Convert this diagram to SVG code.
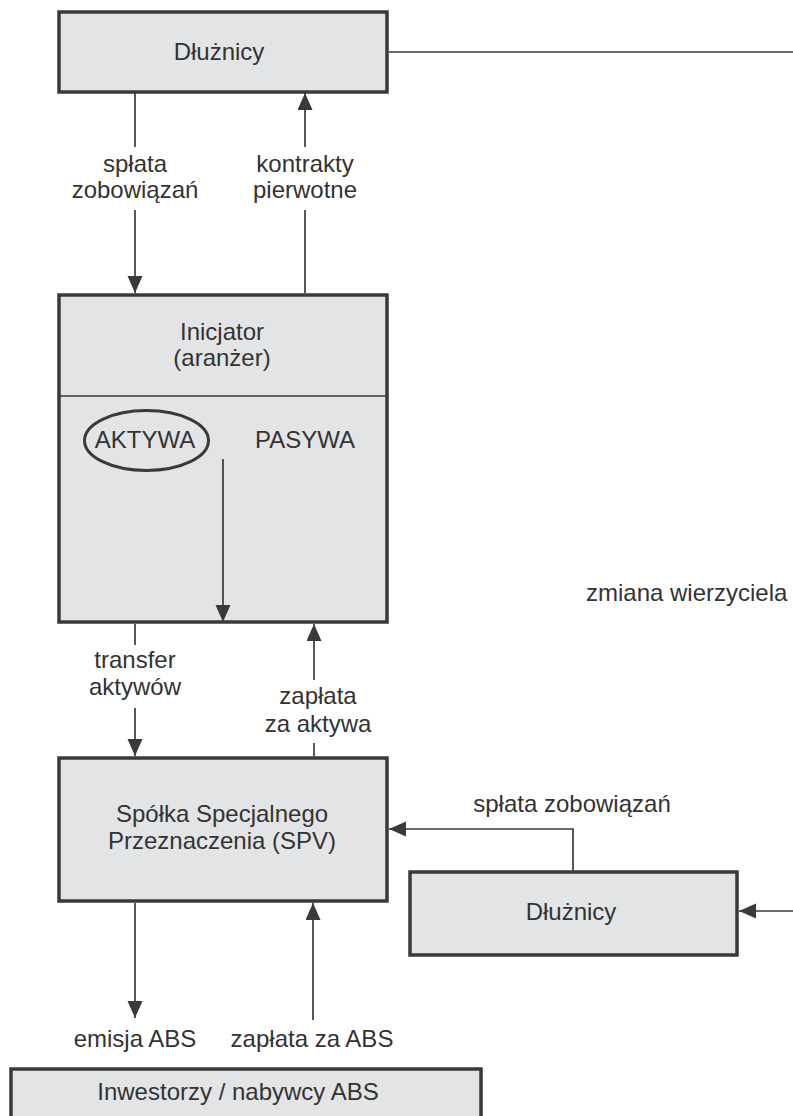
<svg xmlns="http://www.w3.org/2000/svg" width="793" height="1116" viewBox="0 0 793 1116">
<style>
.box{fill:#e3e4e6;stroke:#3a3a3a;stroke-width:3.5}
.t{font-family:"Liberation Sans",Arial,sans-serif;font-size:24px;fill:#333;text-anchor:middle}
.c{fill:none;stroke:#3a3a3a;stroke-width:1.7}
</style>
<defs>
<marker id="ah" markerUnits="userSpaceOnUse" markerWidth="18" markerHeight="16" refX="17" refY="7.5" orient="auto">
<path d="M0,0 L17,7.5 L0,15 z" fill="#3a3a3a"/>
</marker>
</defs>
<rect width="793" height="1116" fill="#fff"/>
<g id="dluznicy-top">
<rect class="box" x="59" y="12" width="328" height="80"/>
<text class="t" x="219" y="60">Dłużnicy</text>
</g>
<g id="inicjator">
<rect class="box" x="59" y="295" width="328" height="327"/>
<line x1="59" y1="396" x2="387" y2="396" stroke="#3a3a3a" stroke-width="1.5"/>
<text class="t" x="222" y="340">Inicjator</text>
<text class="t" x="222" y="366">(aranżer)</text>
<ellipse cx="146.5" cy="440.5" rx="62" ry="30" fill="none" stroke="#3a3a3a" stroke-width="3"/>
<text class="t" x="145" y="448">AKTYWA</text>
<text class="t" x="305" y="448">PASYWA</text>
</g>
<g id="spv">
<rect class="box" x="59" y="758" width="328" height="143"/>
<text class="t" x="222" y="822">Spółka Specjalnego</text>
<text class="t" x="222" y="849">Przeznaczenia (SPV)</text>
</g>
<g id="dluznicy-2">
<rect class="box" x="410" y="872" width="327" height="83"/>
<text class="t" x="571" y="920">Dłużnicy</text>
</g>
<g id="inwestorzy">
<rect class="box" x="11" y="1069" width="470" height="60"/>
<text class="t" x="238" y="1100">Inwestorzy / nabywcy ABS</text>
</g>
<g id="connectors">
<line class="c" x1="135" y1="93" x2="135" y2="147"/>
<line class="c" x1="135" y1="210" x2="135" y2="293" marker-end="url(#ah)"/>
<line class="c" x1="305" y1="293" x2="305" y2="210"/>
<line class="c" x1="305" y1="147" x2="305" y2="93" marker-end="url(#ah)"/>
<line class="c" x1="389" y1="52" x2="793" y2="52"/>
<line class="c" x1="223" y1="459" x2="223" y2="622" marker-end="url(#ah)"/>
<line class="c" x1="135" y1="624" x2="135" y2="645"/>
<line class="c" x1="135" y1="708" x2="135" y2="756" marker-end="url(#ah)"/>
<line class="c" x1="314" y1="756" x2="314" y2="743"/>
<line class="c" x1="314" y1="680" x2="314" y2="624" marker-end="url(#ah)"/>
<polyline class="c" points="573,871 573,829 389,829" marker-end="url(#ah)"/>
<line class="c" x1="793" y1="911" x2="739" y2="911" marker-end="url(#ah)"/>
<line class="c" x1="135" y1="903" x2="135" y2="1018" marker-end="url(#ah)"/>
<line class="c" x1="313" y1="1020" x2="313" y2="903" marker-end="url(#ah)"/>
</g>
<g id="labels">
<text class="t" x="135" y="172">spłata</text>
<text class="t" x="135" y="198">zobowiązań</text>
<text class="t" x="305" y="172">kontrakty</text>
<text class="t" x="305" y="198">pierwotne</text>
<text class="t" x="135" y="668">transfer</text>
<text class="t" x="135" y="695">aktywów</text>
<text class="t" x="318" y="704">zapłata</text>
<text class="t" x="318" y="732">za aktywa</text>
<text class="t" x="572" y="812">spłata zobowiązań</text>
<text class="t" x="586" y="601" style="text-anchor:start">zmiana wierzyciela</text>
<text class="t" x="135" y="1047">emisja ABS</text>
<text class="t" x="312" y="1047">zapłata za ABS</text>
</g>
</svg>
